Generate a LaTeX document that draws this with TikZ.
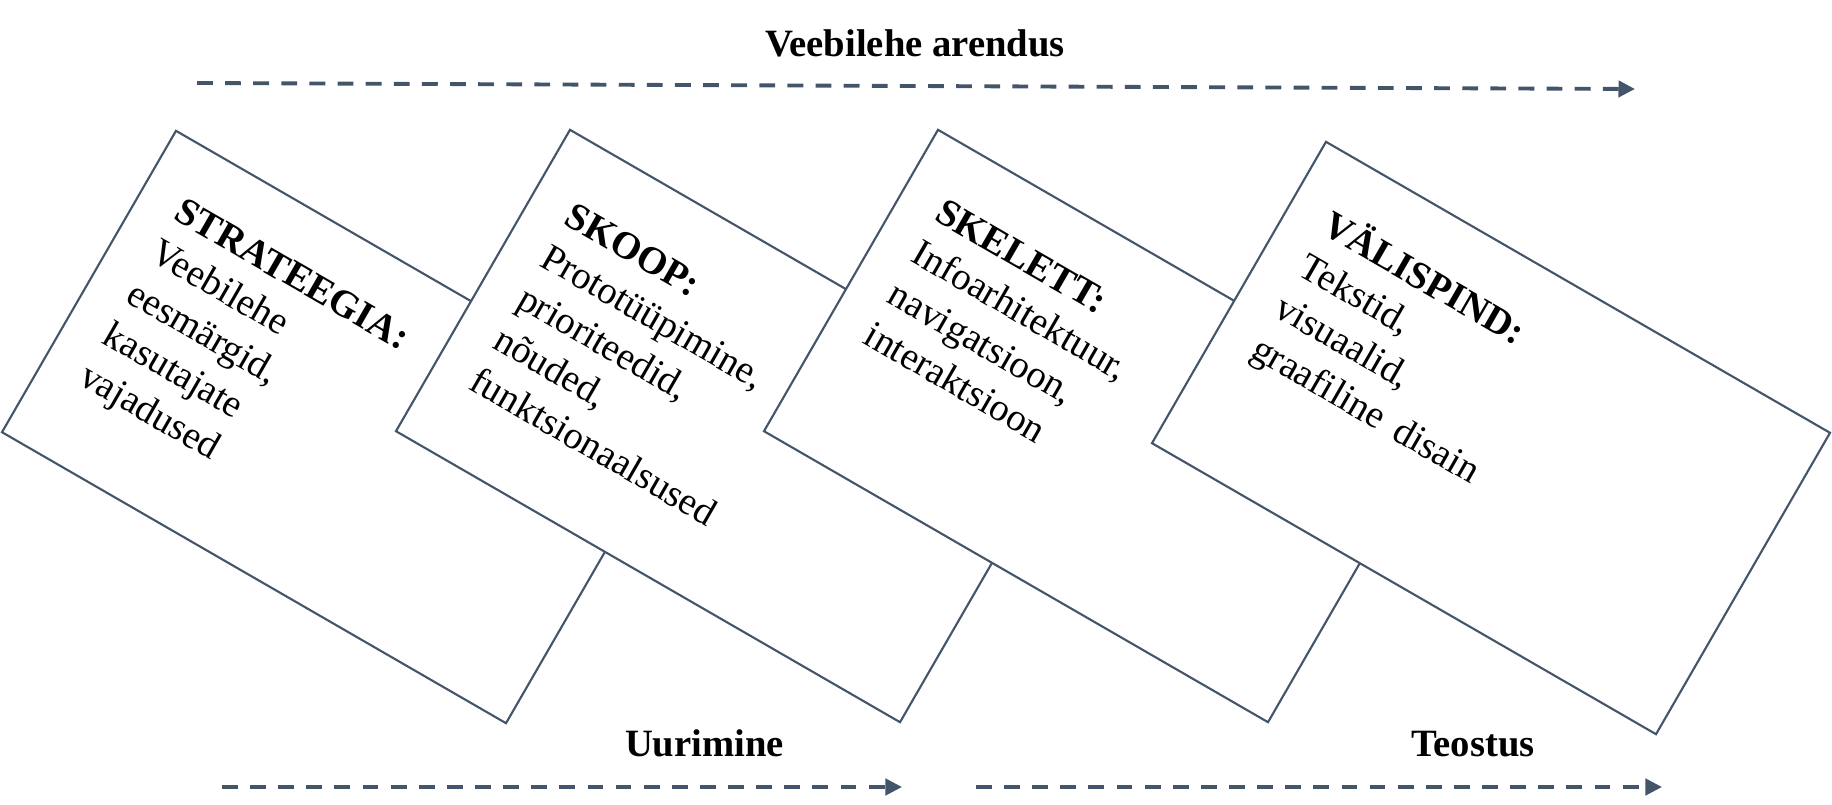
\documentclass[tikz,border=0pt]{standalone}
\usepackage{fontspec}
\setmainfont{Liberation Serif}
\usepackage{tikz}
\usetikzlibrary{arrows.meta,calc}
\definecolor{slate}{HTML}{44546A}

\begin{document}
\begin{tikzpicture}[>={Triangle[length=4.7pt,width=4.6pt]}, every node/.style={font=\fontsize{11pt}{13.5pt}\selectfont}]
\tikzstyle{card}=[rectangle, draw=slate, line width=0.6pt, fill=white, inner sep=0pt, minimum width=5.82cm, minimum height=3.48cm, rotate=-30]
\tikzstyle{cardtext}=[anchor=north west, align=left, inner sep=0pt, rotate=-30]
\tikzstyle{flow}=[->, draw=slate, line width=1.1pt, dash pattern=on 4.5pt off 3.5pt]
\tikzstyle{phase}=[anchor=base, font=\fontsize{11pt}{14pt}\selectfont\bfseries]
\useasboundingbox (0,0) rectangle (18.32,-8.05);
% the four cards, back to front
\node[card] (strategy) at (3.41,-4.27) {};
\node[cardtext] (strategytext) at ($(strategy.north west)+(-30:0.41)+(-120:0.53)$) {\textbf{STRATEEGIA:}\\Veebilehe\\eesmärgid,\\kasutajate\\vajadused};
\node[card] (scope) at (7.35,-4.26) {};
\node[cardtext] (scopetext) at ($(scope.north west)+(-30:0.41)+(-120:0.60)$) {\textbf{SKOOP:}\\Prototüüpimine,\\prioriteedid,\\nõuded,\\funktsionaalsused};
\node[card] (skeleton) at (11.03,-4.26) {};
\node[cardtext] (skeletontext) at ($(skeleton.north west)+(-30:0.41)+(-120:0.55)$) {\textbf{SKELETT:}\\Infoarhitektuur,\\navigatsioon,\\interaktsioon};
\node[card] (surface) at (14.91,-4.38) {};
\node[cardtext] (surfacetext) at ($(surface.north west)+(-30:0.41)+(-120:0.50)$) {\textbf{VÄLISPIND:}\\Tekstid,\\visuaalid,\\graafiline\hspace{0.4em}disain};
% phase arrows
\coordinate (devstart) at (1.97,-0.83);
\coordinate (devend) at (16.35,-0.89);
\coordinate (resstart) at (2.22,-7.87);
\coordinate (resend) at (9.02,-7.87);
\coordinate (impstart) at (9.76,-7.87);
\coordinate (impend) at (16.62,-7.87);
\node[phase] (dev) at (9.15,-0.567) {Veebilehe arendus};
\node[phase] (research) at (7.045,-7.56) {Uurimine};
\node[phase] (implement) at (14.73,-7.56) {Teostus};
\draw[flow] (devstart) -- (devend);
\draw[flow] (resstart) -- (resend);
\draw[flow] (impstart) -- (impend);
\end{tikzpicture}
\end{document}
